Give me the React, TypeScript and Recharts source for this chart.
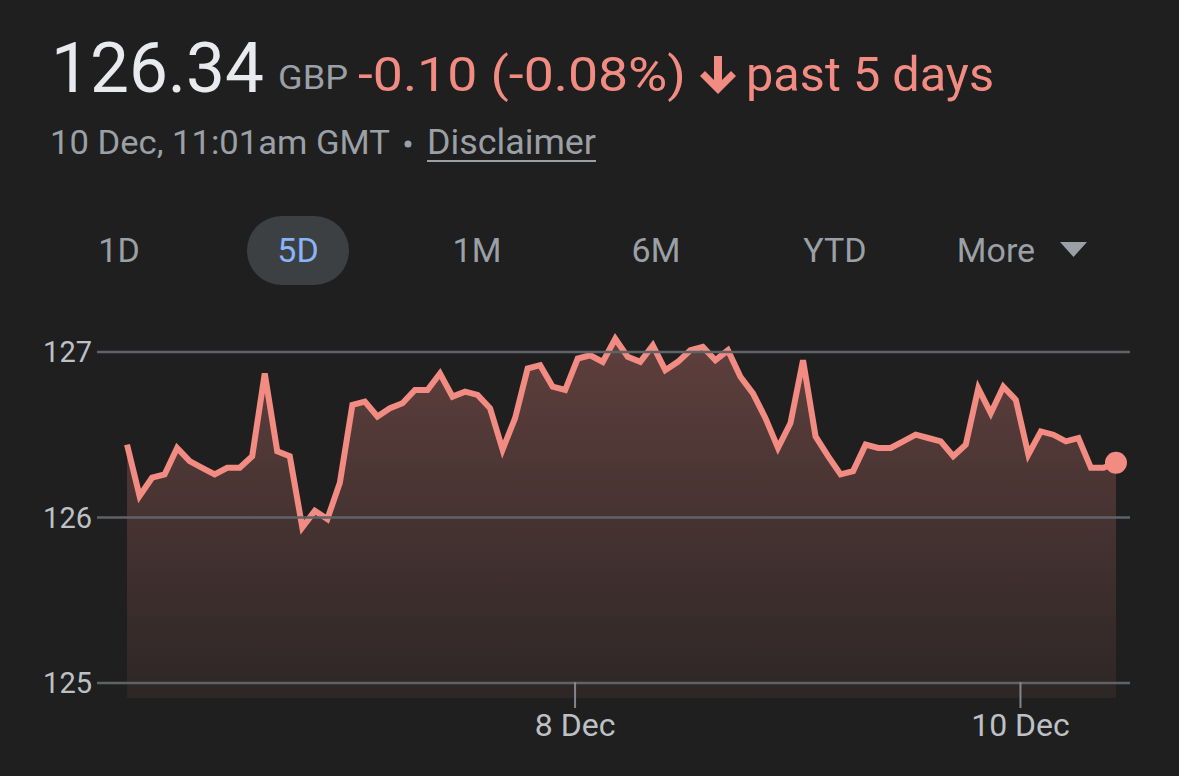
import { AreaChart, Area, XAxis, YAxis, ReferenceLine, ReferenceDot } from 'recharts';

// 5-day intraday prices, GBP
const prices = [
  126.44, 126.13, 126.24, 126.26, 126.42, 126.34, 126.3, 126.26, 126.3, 126.3,
  126.37, 126.87, 126.4, 126.37, 125.94, 126.04, 125.99, 126.21, 126.68, 126.7,
  126.61, 126.66, 126.69, 126.77, 126.77, 126.87, 126.73, 126.76, 126.74, 126.66,
  126.41, 126.6, 126.9, 126.92, 126.79, 126.77, 126.96, 126.98, 126.94, 127.08,
  126.97, 126.94, 127.04, 126.89, 126.94, 127.01, 127.03, 126.95, 127.01, 126.85,
  126.75, 126.6, 126.42, 126.57, 126.95, 126.49, 126.37, 126.26, 126.28, 126.44,
  126.42, 126.42, 126.46, 126.5, 126.48, 126.46, 126.37, 126.44, 126.78, 126.63,
  126.79, 126.71, 126.38, 126.52, 126.5, 126.46, 126.48, 126.3, 126.3, 126.33,
];

const yTicks = [125, 126, 127];
const xTickPositions = [35.79, 71.37];
const xTickLabels = ['8 Dec', '10 Dec'];
const ranges = ['1D', '5D', '1M', '6M', 'YTD'];

const BG = '#1f1f1f';
const RED = '#f28b82';
const GREY = '#9aa0a6';
const FONT = 'Roboto, sans-serif';

const data = prices.map((p, i) => ({ i, p }));
const last = prices.length - 1;

function XTick({ x, y, payload }: any) {
  const label = xTickLabels[xTickPositions.indexOf(payload.value)];
  return (
    <g>
      <line x1={x} x2={x} y1={y - 16} y2={y + 10} stroke="#80868b" strokeWidth={2} />
      <text x={x} y={y + 38} textAnchor="middle" fill="#bdc1c6" fontSize={32} fontFamily={FONT}>
        {label}
      </text>
    </g>
  );
}

export default function App() {
  return (
    <div style={{ position: 'fixed', left: 0, top: 0, width: 1179, height: 776, background: BG, overflow: 'hidden' }}>
      <div style={{ position: 'absolute', left: 0, top: 0 }}>
        <AreaChart width={1179} height={776} data={data} margin={{ top: 320, right: 49, bottom: 48, left: 0 }}>
          <defs>
            <linearGradient id="fillGrad" x1="0" y1="0" x2="0" y2="1">
              <stop offset="0%" stopColor={RED} stopOpacity={0.3} />
              <stop offset="100%" stopColor={RED} stopOpacity={0.07} />
            </linearGradient>
          </defs>
          <XAxis
            type="number"
            dataKey="i"
            domain={[-2.4, 80.12]}
            allowDataOverflow
            ticks={xTickPositions}
            tick={<XTick />}
            tickLine={false}
            axisLine={false}
            tickSize={0}
            tickMargin={0}
            height={30}
          />
          <YAxis
            type="number"
            domain={[124.909, 127.193]}
            allowDataOverflow
            ticks={yTicks}
            width={97}
            tickLine={false}
            axisLine={false}
            tickSize={0}
            tickMargin={5}
            tick={{ fill: '#bdc1c6', fontSize: 29, fontFamily: FONT }}
          />
          {yTicks.map((t) => (
            <ReferenceLine key={t} y={t} stroke="#5f6368" strokeWidth={2.5} />
          ))}
          <Area
            type="linear"
            dataKey="p"
            stroke={RED}
            strokeWidth={6}
            fill="url(#fillGrad)"
            fillOpacity={1}
            dot={false}
            activeDot={false}
            isAnimationActive={false}
          />
          <ReferenceDot x={last} y={prices[last]} r={11} fill={RED} stroke="none" />
        </AreaChart>
      </div>

      <svg width={1179} height={300} style={{ position: 'absolute', left: 0, top: 0 }} fontFamily={FONT}>
        <text x={51} y={92} fill="#e8eaed" fontSize={70} textLength={213} lengthAdjust="spacingAndGlyphs">126.34</text>
        <text x={278} y={89} fill={GREY} fontSize={34} textLength={70} lengthAdjust="spacingAndGlyphs">GBP</text>
        <text x={358} y={91} fill={RED} fontSize={48} textLength={328} lengthAdjust="spacingAndGlyphs">-0.10 (-0.08%)</text>
        <path d="M714 56 h8 v24 l9 -9 l5 5 l-18 18 l-18 -18 l5 -5 l9 9 z" fill={RED} />
        <text x={746} y={91} fill={RED} fontSize={48} textLength={248} lengthAdjust="spacingAndGlyphs">past 5 days</text>

        <text x={50} y={154} fill={GREY} fontSize={34} textLength={340} lengthAdjust="spacingAndGlyphs">10 Dec, 11:01am GMT</text>
        <circle cx={408} cy={144} r={3.5} fill={GREY} />
        <text x={427} y={154} fill={GREY} fontSize={35} textLength={169} lengthAdjust="spacingAndGlyphs">Disclaimer</text>
        <line x1={427} x2={596} y1={161} y2={161} stroke={GREY} strokeWidth={2} />

        <rect x={247} y={216} width={102} height={69} rx={34.5} fill="#3c4043" />
        {ranges.map((r, k) => (
          <text
            key={r}
            x={119 + k * 179}
            y={262}
            textAnchor="middle"
            fill={r === '5D' ? '#8ab4f8' : GREY}
            fontSize={34}
          >
            {r}
          </text>
        ))}
        <text x={996} y={262} textAnchor="middle" fill={GREY} fontSize={34}>More</text>
        <path d="M1060 242 h27 l-13.5 15 z" fill={GREY} />
      </svg>
    </div>
  );
}
